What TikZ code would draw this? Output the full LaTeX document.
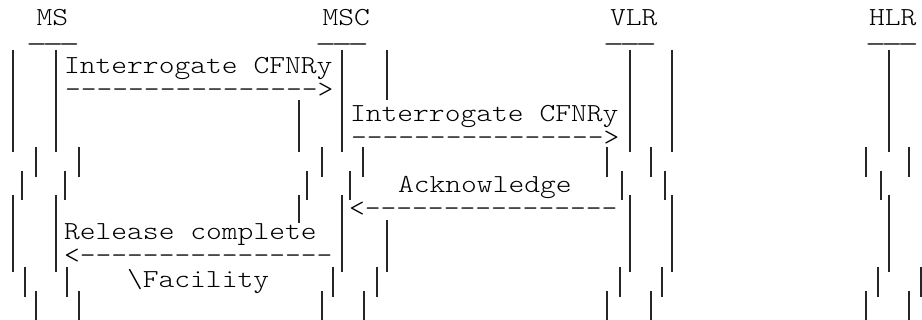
\documentclass[tikz,border=0pt]{standalone}
\usepackage{fontspec}
\newfontfamily\asciimono[Ligatures=NoCommon]{lmmonolt10-regular.otf}
\newcommand{\asciitext}[1]{\scalebox{1.157}[1]{#1}}
\newcommand{\usc}{\scalebox{1.55}[1]{\_\kern-0.12em\_\kern-0.12em\_}}
\begin{document}
\begin{tikzpicture}[x=1pt,y=-1pt,
  txt/.style={font=\fontsize{26}{24}\selectfont\asciimono,inner sep=0pt,outer sep=0pt,anchor=base west,text=black},
  lifeline/.style={line width=1.6pt,draw=black!85}]
\useasboundingbox (0,0) rectangle (922,320);
% entity labels
\node[txt] (ms)  at (36.6,25.5) {\asciitext{MS}};
\node[txt] (msc) at (322.6,25.5) {\asciitext{MSC}};
\node[txt] (vlr) at (610,25.5) {\asciitext{VLR}};
\node[txt] (hlr) at (869,25.5) {\asciitext{HLR}};
% underscores
\node[txt] (msu)  at (26,41) {\usc};
\node[txt] (mscu) at (315,41) {\usc};
\node[txt] (vlru) at (603,41) {\usc};
\node[txt] (hlru) at (865,41) {\usc};
% messages
\node[txt] (m1) at (64,74) {\asciitext{Interrogate CFNRy}};
\node[txt] (a1) at (65,97.7) {\asciitext{---------------->}};
\node[txt] (m2) at (350,121.4) {\asciitext{Interrogate CFNRy}};
\node[txt] (a2) at (351,145.1) {\asciitext{---------------->}};
\node[txt] (m3) at (398,192.5) {\asciitext{Acknowledge}};
\node[txt] (a3) at (349,216.2) {\asciitext{<----------------}};
\node[txt] (m4) at (64,239.9) {\asciitext{Release complete}};
\node[txt] (a4) at (64,263.6) {\asciitext{<----------------}};
\node[txt] (m5) at (127,287.3) {\asciitext{\textbackslash Facility}};
% lifeline bars
\newcommand{\vbar}[3]{\draw[lifeline] (#1,#2) -- (#1,#3);}
% MS
\foreach \x in {13,56}{\vbar{\x}{50}{152}\vbar{\x}{195}{272}}
\foreach \x in {36,79}{\vbar{\x}{147}{177}\vbar{\x}{291}{320}}
\foreach \x in {22,65}{\vbar{\x}{171}{200}}
\foreach \x in {25,67}{\vbar{\x}{267}{297}}
% MSC
\vbar{342}{50}{152}\vbar{342}{195}{272}
\vbar{387}{50}{100}\vbar{387}{220}{272}
\vbar{299}{100}{152}\vbar{299}{195}{223}
\foreach \x in {322,363}{\vbar{\x}{147}{177}}
\foreach \x in {307,350}{\vbar{\x}{171}{200}}
\foreach \x in {333,377}{\vbar{\x}{267}{297}}
\foreach \x in {322,364}{\vbar{\x}{291}{320}}
% VLR
\foreach \x in {630,672}{\vbar{\x}{50}{152}\vbar{\x}{195}{272}}
\foreach \x in {607,651}{\vbar{\x}{147}{177}\vbar{\x}{291}{320}}
\foreach \x in {622,665}{\vbar{\x}{171}{200}}
\foreach \x in {620,662}{\vbar{\x}{267}{297}}
% HLR
\vbar{889}{50}{152}\vbar{889}{195}{272}
\foreach \x in {866,909}{\vbar{\x}{147}{177}\vbar{\x}{291}{320}}
\vbar{881}{171}{200}
\foreach \x in {878,921}{\vbar{\x}{267}{297}}
\end{tikzpicture}
\end{document}
